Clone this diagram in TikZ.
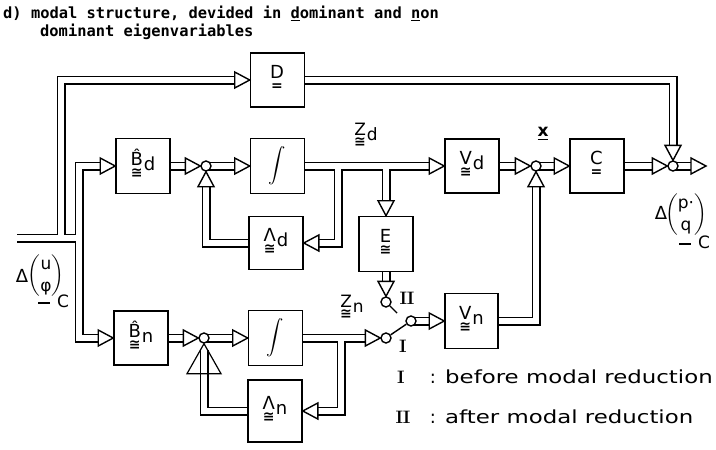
\documentclass[tikz,border=0pt]{standalone}
\usepackage{amsmath}
\usepackage{graphicx}
\usepackage{fontspec}
\setsansfont{DejaVu Sans}
\setmonofont{DejaVu Sans Mono}
\usetikzlibrary{calc,backgrounds}
\newcommand\mxl[3]{\begin{tabular}[t]{@{}c@{}}#1\\[-8pt]{\fontsize{14}{14}\selectfont\bfseries #2}\end{tabular}\kern1pt\raisebox{-5pt}{#3}}
\newcommand\busnet[1]{%
 \draw[#1] (in) -- (61,238) -- (61,80) -- ([xshift=-15pt]D.west);
 \draw[#1] (61,238) -- (79,238);
 \draw[#1] ([xshift=-15pt]Bd.west) -| (79,338) -- ([xshift=-15pt]Bn.west);
 \draw[#1] (Bd.east) -- ([xshift=-15pt]j1.west);
 \draw[#1] (j1.center) -- ([xshift=-15pt]Id.west);
 \draw[#1] (Ld.west) -| ([yshift=-15pt]j1.south);
 \draw[#1] (Id.east) -- ([xshift=-15pt]Vd.west);
 \draw[#1] (338,166) |- ([xshift=15pt]Ld.east);
 \draw[#1] (E.north |- Id.east) -- ([yshift=15pt]E.north);
 \draw[#1] (E.south) -- ([yshift=15pt]cII.north);
 \draw[#1] (Bn.east) -- ([xshift=-15pt]j2.west);
 \draw[#1] (j2.center) -- ([xshift=-15pt]In.west);
 \draw[#1] (Ln.west) -| ([yshift=-6pt]j2.south);
 \draw[#1] (In.east) -- ([xshift=-15pt]cI.west);
 \draw[#1] (341,338) |- ([xshift=15pt]Ln.east);
 \draw[#1] (piv.center) -- ([xshift=-15pt]Vn.west);
 \draw[#1] (Vn.east) -| ([yshift=-15pt]j3.south);
 \draw[#1] (Vd.east) -- ([xshift=-15pt]j3.west);
 \draw[#1] (j3.center) -- ([xshift=-15pt]C.west);
 \draw[#1] (C.east) -- ([xshift=-15pt]j4.west);
 \draw[#1] (j4.center) -- ([xshift=-15pt]out);
 \draw[#1] (D.east) -| ([yshift=15pt]j4.north);
}
\begin{document}
\begin{tikzpicture}[x=1pt,y=-1pt,
  every node/.style={font=\sffamily\fontsize{15}{18}\selectfont, inner sep=0pt},
  blk/.style={draw, line width=1.6pt, fill=white, minimum width=54pt, minimum height=54pt, font=\sffamily\fontsize{18}{20}\selectfont},
  jn/.style={circle, draw, line width=1.4pt, fill=white, minimum size=10pt},
  busout/.style={line width=9pt, line join=miter, line cap=butt, black},
  busin/.style={line width=5.4pt, line join=miter, line cap=butt, white},
  tri/.pic={\draw[line width=1.4pt, fill=white, line join=miter] (0,0) -- (-15,-8) -- (-15,8) -- cycle;},
  bigtri/.pic={\draw[line width=1.2pt, line join=miter] (0,0) -- (-30,-17) -- (-30,17) -- cycle;},
  lever/.style={line width=1.4pt},
  numfont/.style={font=\rmfamily\bfseries\fontsize{18}{18}\selectfont},
  legfont/.style={font=\sffamily\fontsize{18}{18}\selectfont},
  sigfont/.style={font=\sffamily\fontsize{17}{19}\selectfont},
  titlefont/.style={font=\ttfamily\bfseries\fontsize{15.4}{18}\selectfont}]
\useasboundingbox (0,0) rectangle (716,450);

% title
\node[titlefont, anchor=base west] (t1) at (3,18.5) {d) modal structure, devided in \underline{d}ominant and \underline{n}on};
\node[titlefont, anchor=base west] (t2) at (40,36) {dominant eigenvariables};

% blocks
\node[blk] (D) at (277.5,80) {\mxl{D}{=}{}};
\node[blk, minimum height=55pt] (Bd) at (143,166) {\mxl{\^{B}}{≅}{d}};
\node[blk, minimum height=55pt] (Id) at (277.5,166) {$\displaystyle\int$};
\node[blk, minimum height=53pt] (Ld) at (276,243) {\mxl{Λ}{≅}{d}};
\node[blk, minimum height=55pt] (E) at (386,244) {\mxl{E}{≅}{}};
\node[blk] (Vd) at (472,166) {\mxl{V}{≅}{d}};
\node[blk] (C) at (597,166) {\mxl{C}{=}{}};
\node[blk] (Bn) at (141,338) {\mxl{\^{B}}{≅}{n}};
\node[blk, minimum height=55pt] (In) at (275.5,338) {$\displaystyle\int$};
\node[blk, minimum height=62pt] (Ln) at (275,411) {\mxl{Λ}{≅}{n}};
\node[blk, minimum width=53pt, minimum height=55pt] (Vn) at (471.5,321) {\mxl{V}{≅}{n}};

% junctions and switch contacts
\node[jn] (j1) at (206,166) {};
\node[jn] (j2) at (204,338) {};
\node[jn] (j3) at (536,166) {};
\node[jn] (j4) at (673,166) {};
\node[jn] (cII) at (386,302) {};
\node[jn] (cI) at (386,338) {};
\node[jn] (piv) at (411,321) {};
\coordinate (in) at (17,238);
\coordinate (out) at (706,166);

\begin{scope}[on background layer]
\busnet{busout}
\busnet{busin}
\end{scope}

% arrowheads
\pic at (D.west) {tri};
\pic at (Bd.west) {tri};
\pic at (Bn.west) {tri};
\pic at (j1.west) {tri};
\pic at (Id.west) {tri};
\pic[rotate=90] at (j1.south) {tri};
\pic at (Vd.west) {tri};
\pic[rotate=180] at (Ld.east) {tri};
\pic[rotate=-90] at (E.north) {tri};
\pic[rotate=-90] at (cII.north) {tri};
\pic at (j2.west) {tri};
\pic at (In.west) {tri};
\pic[rotate=90] at (j2.south) {bigtri};
\pic at (cI.west) {tri};
\pic[rotate=180] at (Ln.east) {tri};
\pic at (Vn.west) {tri};
\pic[rotate=90] at (j3.south) {tri};
\pic at (j3.west) {tri};
\pic at (C.west) {tri};
\pic at (j4.west) {tri};
\pic[rotate=-90] at (j4.north) {tri};
\pic at (out) {tri};

% switch
\draw[lever] (piv) -- (cI);
\draw[lever] (cII.-45) -- ++(7,7);

% signal labels
\node[sigfont] (zd) at (366,137) {\mxl{Z}{≅}{d}};
\node[sigfont] (xl) at (543,134) {\underline{\bfseries x}};
\node[sigfont] (zn) at (352,309) {\mxl{Z}{≅}{n}};
\node[numfont] (lII) at (407,298) {I\kern-0.5pt I};
\node[numfont] (lI) at (403,346) {I};

% input label
\node[legfont] (dU) at (22,276) {Δ};
\node[font=\sffamily\fontsize{17}{22}\selectfont] (uphi) at (46,276) {$\left(\begin{array}{@{}c@{}}\textsf{u}\\\textsf{φ}\end{array}\right)$};
\node[sigfont] (uC) at (63,301) {C};
\node (uline) at (44,303) {\rule{12pt}{1.5pt}};

% output label
\node[legfont] (dP) at (661,213) {Δ};
\node[font=\sffamily\fontsize{17}{22}\selectfont] (pq) at (686,215) {$\left(\begin{array}{@{}c@{}}\textsf{p·}\\\textsf{q}\end{array}\right)$};
\node[sigfont] (pC) at (704,242) {C};
\node (pline) at (685,244) {\rule{12pt}{1.5pt}};

% legend
\node[numfont, anchor=base] (lgI) at (401,383) {I};
\node[legfont, anchor=base] (lgc1) at (433,383) {:};
\node[legfont, anchor=base west] (lg1) at (445,383) {\scalebox{1.27}[1]{before modal reduction}};
\node[numfont, anchor=base] (lgII) at (403,423) {I\kern-0.5pt I};
\node[legfont, anchor=base] (lgc2) at (433,423) {:};
\node[legfont, anchor=base west] (lg2) at (445,423) {\scalebox{1.27}[1]{after modal reduction}};
\end{tikzpicture}
\end{document}
